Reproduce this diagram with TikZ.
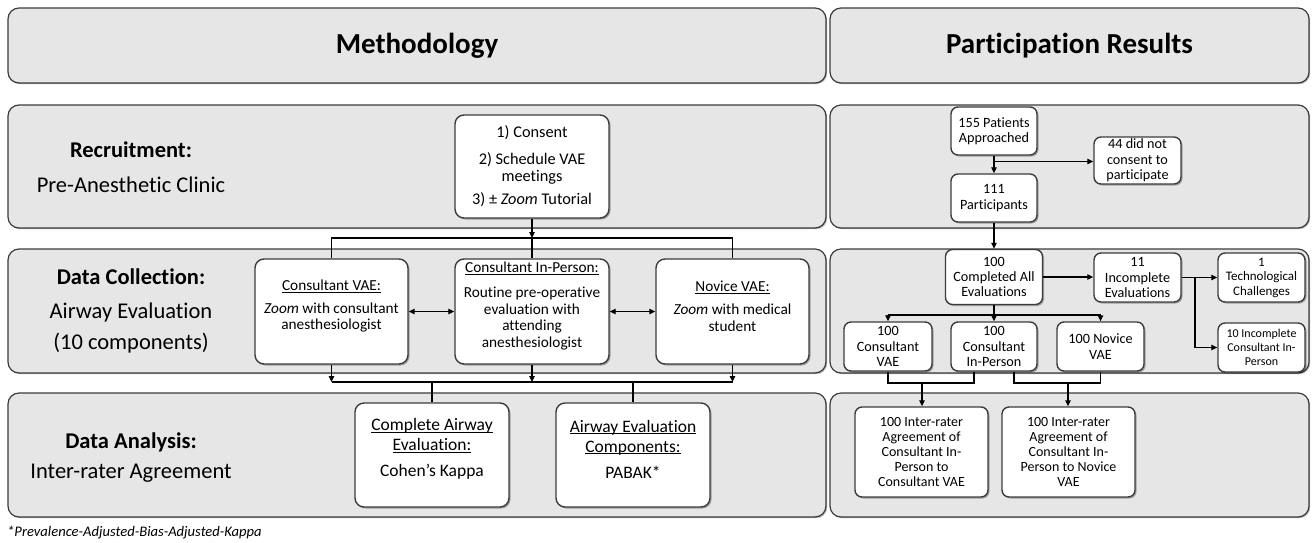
\documentclass[tikz,border=0pt]{standalone}
\usepackage{fontspec}
\setmainfont{Carlito}[Ligatures=NoCommon]
\usetikzlibrary{arrows.meta,shadows,calc}
\definecolor{panelfill}{HTML}{E6E6E6}
\definecolor{edgecol}{HTML}{3C3C3C}
\newcommand\myfs[2]{\fontsize{#1}{#2}\selectfont}
\newcommand\myul[1]{\underline{\smash{#1}}}
\tikzset{
  panel/.style={draw=edgecol, line width=1.2pt, fill=panelfill, rounded corners=11pt,
    inner sep=0pt, drop shadow={shadow xshift=1.2pt, shadow yshift=-1.2pt, opacity=0.3, fill=black}},
  headtxt/.style={font=\myfs{29}{32}\bfseries},
  lab/.style={inner sep=0pt, font=\myfs{22.5}{26}},
  labb/.style={inner sep=0pt, font=\myfs{22.5}{26}\bfseries},
  box/.style={draw=edgecol, line width=1.4pt, fill=white, rounded corners=9pt, align=center,
    inner sep=0pt, drop shadow={shadow xshift=1.5pt, shadow yshift=-1.5pt, opacity=0.3, fill=black}},
  lbox/.style={box, minimum width=154pt, minimum height=104pt, font=\myfs{15.3}{16.5}},
  rbox/.style={box, rounded corners=7pt, minimum width=86pt, minimum height=48pt, font=\myfs{14.2}{15.3}},
  ln/.style={draw=black, line width=1.1pt},
  arr/.style={ln, -{Triangle[length=6pt,width=5.5pt]}},
  dbl/.style={ln, {Triangle[length=6pt,width=5.5pt]}-{Triangle[length=6pt,width=5.5pt]}},
}
\begin{document}
\begin{tikzpicture}[x=1pt,y=-1pt]
\useasboundingbox (0,0) rectangle (1312,542);
% ---------- panels ----------
\node[panel, minimum width=818pt, minimum height=75pt, headtxt] (hl) at (417,45.5) {Methodology};
\node[panel, minimum width=479pt, minimum height=75pt, headtxt] (hr) at (1069.5,45.5) {Participation Results};
\node[panel, minimum width=818pt, minimum height=123pt] (pl1) at (417,166.5) {};
\node[panel, minimum width=479pt, minimum height=123pt] (pr1) at (1069.5,166.5) {};
\node[panel, minimum width=818pt, minimum height=124pt] (pl2) at (417,311) {};
\node[panel, minimum width=479pt, minimum height=124pt] (pr2) at (1069.5,311) {};
\node[panel, minimum width=818pt, minimum height=124pt] (pl3) at (417,455) {};
\node[panel, minimum width=479pt, minimum height=124pt] (pr3) at (1069.5,455) {};
% ---------- left labels ----------
\node[labb] (l1a) at (131,150) {Recruitment:};
\node[lab]  (l1b) at (131,185) {Pre-Anesthetic Clinic};
\node[labb] (l2a) at (131,277) {Data Collection:};
\node[lab]  (l2b) at (131,312) {Airway Evaluation};
\node[lab]  (l2c) at (131,343) {(10 components)};
\node[labb] (l3a) at (131,442) {Data Analysis:};
\node[lab]  (l3b) at (131,473) {Inter-rater Agreement};
% ---------- methodology boxes ----------
\node[lbox, minimum height=103pt, font=\myfs{16.3}{17}] (consent) at (532,166.5)
  {1) Consent\\[10pt]2) Schedule VAE\\meetings\\[6pt]3) ± \textit{Zoom} Tutorial};
\node[lbox, minimum width=153pt, minimum height=105pt] (cvae) at (331.5,311.5)
  {\myul{Consultant VAE:}\\[6.5pt]\textit{Zoom} with consultant\\anesthesiologist};
\node[lbox, minimum height=105pt] (cip) at (532,311.5)
  {\myul{Consultant In-Person:}\\[8.5pt]Routine pre-operative\\evaluation with\\attending\\anesthesiologist};
\node[lbox, minimum width=153pt, minimum height=105pt] (nvae) at (732.5,311.5)
  {\myul{Novice VAE:}\\[6.5pt]\textit{Zoom} with medical\\student};
\node[lbox, minimum height=104pt, font=\myfs{17.5}{20}] (cae) at (432,455)
  {\myul{Complete Airway}\\\myul{Evaluation:}\\[6pt]Cohen’s Kappa};
\node[lbox, minimum height=104pt, font=\myfs{17.5}{20}] (aec) at (633,455)
  {\myul{Airway Evaluation}\\\myul{Components:}\\[6pt]PABAK*};
% ---------- methodology connectors ----------
\coordinate (t1) at (532,238);
\draw[arr] (consent.south) -- (t1);
\draw[ln] (cvae.north) -- (cvae.north |- t1) -- (nvae.north |- t1) -- (nvae.north);
\draw[ln] (t1) -- (cip.north);
\draw[dbl] (cvae.east) -- (cip.west);
\draw[dbl] (cip.east) -- (nvae.west);
\coordinate (t2) at (532,382);
\draw[arr] (cvae.south) -- (cvae.south |- t2);
\draw[arr] (cip.south) -- (cip.south |- t2);
\draw[arr] (nvae.south) -- (nvae.south |- t2);
\draw[ln] (cvae.south |- t2) -- (nvae.south |- t2);
\draw[ln] (cae.north |- t2) -- (cae.north);
\draw[ln] (aec.north |- t2) -- (aec.north);
% ---------- results boxes ----------
\node[rbox] (pa) at (994,131) {155 Patients\\Approached};
\node[rbox, minimum width=87pt, minimum height=47pt] (nc) at (1137.5,160.5) {44 did not\\consent to\\participate};
\node[rbox] (pp) at (994,198) {111\\Participants};
\node[rbox, minimum width=97pt, minimum height=55pt] (ca) at (994,277) {100\\Completed All\\Evaluations};
\node[rbox, minimum width=87pt, minimum height=49pt] (ie) at (1137.5,277.5) {11\\Incomplete\\Evaluations};
\node[rbox, minimum width=87pt, minimum height=49pt, font=\myfs{13}{14.5}] (tc) at (1261.5,277.5) {1\\Technological\\Challenges};
\node[rbox, minimum width=87pt, minimum height=49pt, font=\myfs{12}{14}] (ic) at (1261.5,347.5) {10 Incomplete\\Consultant In-\\Person};
\node[rbox, minimum width=88pt, minimum height=49pt] (cv) at (888,346.5) {100\\Consultant\\VAE};
\node[rbox, minimum width=86pt, minimum height=49pt] (ci) at (994,346.5) {100\\Consultant\\In-Person};
\node[rbox, minimum width=87pt, minimum height=49pt] (nv) at (1100.5,346.5) {100 Novice\\VAE};
\node[rbox, minimum width=133pt, minimum height=90pt, font=\myfs{14}{15}] (ir1) at (921.5,452)
  {100 Inter-rater\\Agreement of\\Consultant In-\\Person to\\Consultant VAE};
\node[rbox, minimum width=133pt, minimum height=90pt, font=\myfs{14}{15}] (ir2) at (1068.5,452)
  {100 Inter-rater\\Agreement of\\Consultant In-\\Person to Novice\\VAE};
% ---------- results connectors ----------
\draw[arr] (pa.south) -- (pp.north);
\coordinate (r1) at (994,161.5);
\draw[arr] (r1) -- (r1 -| nc.west);
\draw[arr] (pp.south) -- (ca.north);
\draw[arr] (ca.east) -- (ca.east -| ie.west);
\coordinate (r2) at (1195,277.5);
\draw[ln] (ie.east) -- (r2);
\draw[arr] (r2) -- (tc.west);
\draw[arr] (r2) |- (ic.west);
\coordinate (r3) at (994,315);
\draw[ln] (ca.south) -- (r3);
\draw[ln] (cv.north |- r3) -- (nv.north |- r3);
\draw[arr] (cv.north |- r3) -- (cv.north);
\draw[arr] (r3) -- (ci.north);
\draw[arr] (nv.north |- r3) -- (nv.north);
\coordinate (r4) at (922,383);
\coordinate (r5) at (1068,383);
\draw[ln] (cv.south) -- (cv.south |- r4) -- ($(ci.south |- r4)+(-20,0)$) -- ($(ci.south)+(-20,0)$);
\draw[ln] ($(ci.south)+(20,0)$) -- ($(ci.south |- r5)+(20,0)$) -- (nv.south |- r5) -- (nv.south);
\draw[arr] (r4) -- (r4 |- ir1.north);
\draw[arr] (r5) -- (r5 |- ir2.north);
% ---------- footnote ----------
\node[anchor=west, inner sep=0pt, font=\myfs{14.6}{16}] (fn) at (7,533) {\textit{*Prevalence-Adjusted-Bias-Adjusted-Kappa}};
\end{tikzpicture}
\end{document}
